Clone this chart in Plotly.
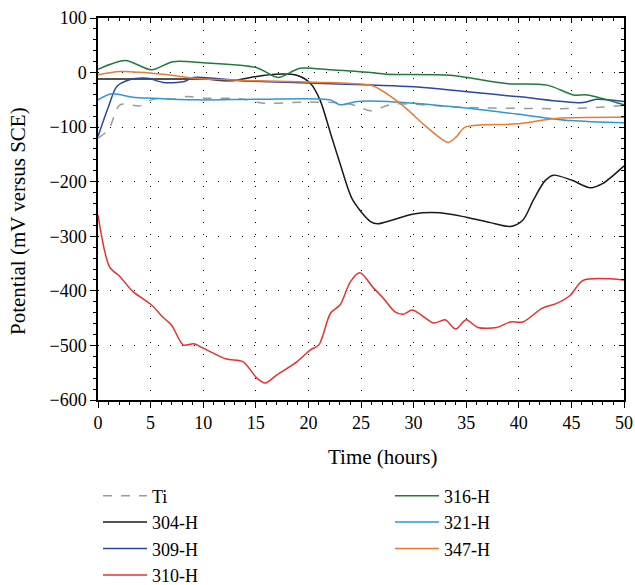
import plotly.graph_objects as go

# ---- data ----
ti_x = [0, 1, 2.1, 4, 5.1, 6.2, 7.1, 8.4, 10.3, 13.5, 15.7, 19.8, 23.3, 24.6, 25.9, 28, 35, 44.6, 47.4, 50]
ti_y = [-120, -105, -59, -61, -50, -47, -49, -44, -47, -48, -56, -54, -56, -61, -70, -58, -64, -66, -64, -60]

h304_x = [0, 4.9, 10, 12.8, 15.1, 16.9, 18.9, 20.2, 21.1, 22.1, 23, 24.2, 25.9, 26.6, 28, 30, 32.5, 35, 37.3, 39.2, 40.4, 41.4, 42.5, 43.3, 45, 46.8, 48, 50]
h304_y = [-12, -12, -12, -15, -7, -3, -5, -20, -50, -111, -166, -233, -273, -277, -270, -259, -257, -265, -275, -282, -270, -233, -198, -188, -197, -211, -203, -171]

h309_x = [0, 1, 1.8, 3, 4.3, 4.9, 6.2, 8.1, 9.1, 13.5, 20, 26, 30, 39.8, 46.1, 47.4, 50]
h309_y = [-117, -62, -25, -13, -10, -11, -18, -17, -9, -15, -19, -23, -26, -44, -55, -49, -53]

h310_x = [0, 1.1, 2.1, 3.3, 5.1, 6.1, 7.0, 8.1, 9.1, 10, 12.2, 13.8, 15.1, 15.9, 17, 18.9, 20.2, 21, 22.1, 23, 24, 24.9,
          26.2, 27.1, 28.2, 29, 29.9, 31.9, 33, 34, 35, 36.1, 37.9, 39.2, 40.4, 42.2, 43.6, 44.9, 46.1, 50]
h310_y = [-261, -356, -374, -401, -426, -447, -463, -499, -497, -505, -525, -530, -560, -569, -554, -530, -508, -499, -441, -426, -383, -367,
          -395, -413, -438, -443, -435, -459, -453, -470, -453, -467, -467, -457, -457, -432, -423, -408, -381, -380]

h316_x = [0, 2.6, 5.1, 7.1, 10, 15.1, 17.1, 19.2, 22.1, 25.9, 27.4, 33.5, 38.8, 42.7, 45.2, 46.5, 50]
h316_y = [6, 22, 5, 20, 18, 9, -9, 8, 5, 0, -3, -5, -20, -23, -41, -41, -59]

h321_x = [0, 1.3, 3.3, 5.1, 9.4, 15.1, 22.1, 23, 24.6, 25.9, 30, 35, 39.8, 44.9, 50]
h321_y = [-50, -39, -45, -47, -50, -49, -50, -59, -53, -52, -56, -65, -76, -88, -92]

h347_x = [0, 2.1, 6.2, 9.4, 15.1, 21.4, 24, 26.1, 28.7, 31.2, 33.3, 34.1, 34.9, 39.8, 43.6, 50]
h347_y = [-4, 2, -3, -11, -15, -18, -20, -24, -56, -99, -128, -117, -100, -94, -84, -82]

series = [
    ("Ti", ti_x, ti_y, "#9b9b9b", "dash", "legend"),
    ("304-H", h304_x, h304_y, "#1a1a1a", "solid", "legend"),
    ("309-H", h309_x, h309_y, "#2b47a6", "solid", "legend"),
    ("310-H", h310_x, h310_y, "#e8302e", "solid", "legend"),
    ("316-H", h316_x, h316_y, "#1f7a3c", "solid", "legend2"),
    ("321-H", h321_x, h321_y, "#2c98d4", "solid", "legend2"),
    ("347-H", h347_x, h347_y, "#ea7a32", "solid", "legend2"),
]

FONT = "Liberation Serif"
TICK_SIZE = 18
TITLE_SIZE = 21
LEGEND_SIZE = 18

fig = go.Figure()
for name, xs, ys, col, dash, lg in series:
    fig.add_trace(go.Scatter(x=xs, y=ys, name=name, mode="lines",
                             line=dict(color=col, width=1.5, dash=dash, shape="spline", smoothing=0.8),
                             legend=lg))

# invisible trace to activate mirrored axes with inward ticks
fig.add_trace(go.Scatter(x=[0, 50], y=[-600, 100], xaxis="x2", yaxis="y2", mode="lines",
                         line=dict(width=0), showlegend=False, hoverinfo="skip"))

axis_common = dict(showline=True, linecolor="black", linewidth=1.5, zeroline=False)

fig.update_layout(
    width=635, height=585,
    margin=dict(l=98, r=11, t=18, b=185, autoexpand=False),
    paper_bgcolor="white", plot_bgcolor="white",
    font=dict(family=FONT, size=TICK_SIZE, color="black"),
    xaxis=dict(range=[0, 50], dtick=5, tick0=0, ticks="outside", ticklen=6, tickwidth=1, tickcolor="black",
               showgrid=True, gridcolor="black", gridwidth=1, griddash="1px,11px", automargin=False,
               minor=dict(dtick=1, ticks="outside", ticklen=3, tickcolor="black", showgrid=False),
               tickfont=dict(family=FONT, size=TICK_SIZE), **axis_common),
    yaxis=dict(range=[-600, 100], dtick=100, tick0=0, ticks="outside", ticklen=6, tickwidth=1, tickcolor="black",
               showgrid=True, gridcolor="black", gridwidth=1, griddash="1px,11px", automargin=False,
               minor=dict(dtick=20, ticks="outside", ticklen=3, tickcolor="black", showgrid=False),
               tickfont=dict(family=FONT, size=TICK_SIZE), **axis_common),
    xaxis2=dict(range=[0, 50], overlaying="x", side="top", dtick=5, ticks="inside", ticklen=5, tickcolor="black",
                showticklabels=False, showgrid=False, automargin=False,
                minor=dict(dtick=1, ticks="inside", ticklen=3, tickcolor="black"), **axis_common),
    yaxis2=dict(range=[-600, 100], overlaying="y", side="right", dtick=100, ticks="inside", ticklen=5, tickcolor="black",
                showticklabels=False, showgrid=False, automargin=False,
                minor=dict(dtick=20, ticks="inside", ticklen=3, tickcolor="black"), **axis_common),
    legend=dict(x=0.0, y=-0.2029, xanchor="left", yanchor="top", orientation="v", itemwidth=44,
                font=dict(family=FONT, size=LEGEND_SIZE), bgcolor="rgba(0,0,0,0)", tracegroupgap=0),
    legend2=dict(x=0.555, y=-0.2029, xanchor="left", yanchor="top", orientation="v", itemwidth=44,
                 font=dict(family=FONT, size=LEGEND_SIZE), bgcolor="rgba(0,0,0,0)", tracegroupgap=0),
    annotations=[
        dict(text="Time (hours)", xref="paper", yref="paper", x=(382.5 - 98) / 526, y=(400 - 457) / 382,
             xanchor="center", yanchor="middle", showarrow=False, font=dict(family=FONT, size=TITLE_SIZE)),
        dict(text="Potential (mV versus SCE)", xref="paper", yref="paper", x=(18 - 98) / 526, y=(400 - 221) / 382,
             xanchor="center", yanchor="middle", textangle=-90, showarrow=False, font=dict(family=FONT, size=TITLE_SIZE)),
    ],
)

fig.write_html("out.html")
